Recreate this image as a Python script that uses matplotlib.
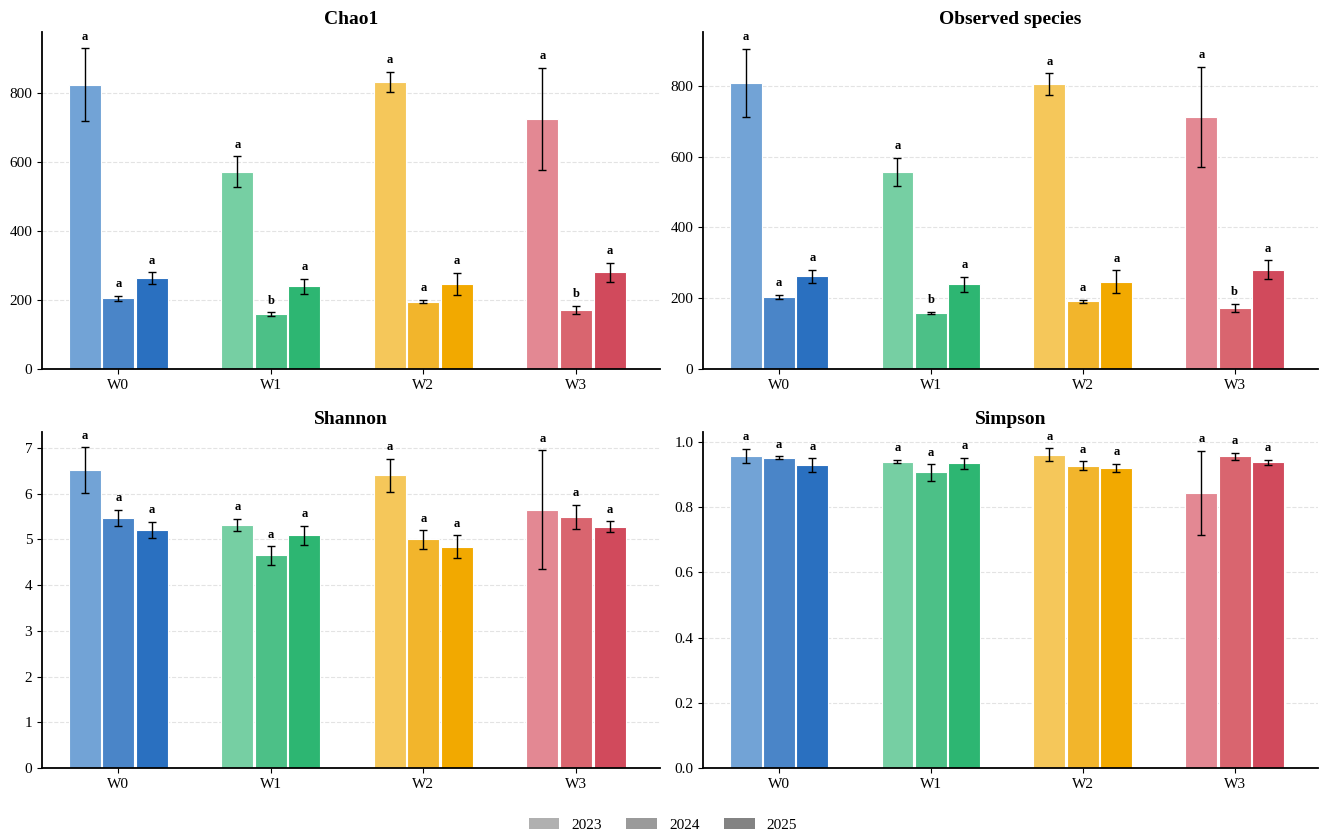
import matplotlib
matplotlib.use("Agg")
import matplotlib.pyplot as plt
import numpy as np
from matplotlib.patches import Patch

plt.rcParams["font.family"] = ["Liberation Serif", "DejaVu Serif"]

# ==========================================
# Data
# ==========================================

groups = ["W0", "W1", "W2", "W3"]
years = ["2023", "2024", "2025"]

# rows = groups, cols = years
chao1_mean = [[825, 205, 263], [572, 160, 240], [832, 195, 247], [725, 172, 280]]
chao1_err = [[105, 7, 18], [45, 5, 22], [30, 5, 32], [148, 12, 28]]
chao1_sig = [["a", "a", "a"], ["a", "b", "a"], ["a", "a", "a"], ["a", "b", "a"]]

obs_mean = [[808, 204, 262], [557, 158, 239], [805, 191, 247], [712, 172, 281]]
obs_err = [[97, 5, 18], [40, 4, 22], [30, 4, 32], [142, 12, 26]]
obs_sig = [["a", "a", "a"], ["a", "b", "a"], ["a", "a", "a"], ["a", "b", "a"]]

shannon_mean = [[6.52, 5.47, 5.21], [5.32, 4.65, 5.09], [6.40, 5.00, 4.84], [5.65, 5.49, 5.28]]
shannon_err = [[0.50, 0.18, 0.18], [0.13, 0.20, 0.21], [0.37, 0.20, 0.25], [1.30, 0.27, 0.12]]
shannon_sig = [["a", "a", "a"], ["a", "a", "a"], ["a", "a", "a"], ["a", "a", "a"]]

simpson_mean = [[0.957, 0.951, 0.928], [0.939, 0.906, 0.934], [0.960, 0.927, 0.919], [0.843, 0.955, 0.937]]
simpson_err = [[0.021, 0.005, 0.021], [0.005, 0.025, 0.017], [0.020, 0.013, 0.013], [0.130, 0.011, 0.008]]
simpson_sig = [["a", "a", "a"], ["a", "a", "a"], ["a", "a", "a"], ["a", "a", "a"]]

group_colors = [
    ["#72a3d6", "#4a85c8", "#2a70c0"],
    ["#76cfa3", "#4cc087", "#2db672"],
    ["#f5c75a", "#f2b52c", "#f2a900"],
    ["#e38893", "#d9656f", "#d14a5c"],
]

panels = [
    ("Chao1", chao1_mean, chao1_err, chao1_sig, 977, [0, 200, 400, 600, 800]),
    ("Observed species", obs_mean, obs_err, obs_sig, 952, [0, 200, 400, 600, 800]),
    ("Shannon", shannon_mean, shannon_err, shannon_sig, 7.35, [0, 1, 2, 3, 4, 5, 6, 7]),
    ("Simpson", simpson_mean, simpson_err, simpson_sig, 1.03, [0.0, 0.2, 0.4, 0.6, 0.8, 1.0]),
]

positions = [
    [0.0317, 0.5597, 0.466, 0.402],
    [0.5302, 0.5597, 0.464, 0.402],
    [0.0317, 0.0835, 0.466, 0.401],
    [0.5302, 0.0835, 0.464, 0.401],
]

# ==========================================
# Plot
# ==========================================

fig = plt.figure(figsize=(13.26, 8.38), dpi=100)

x = np.arange(len(groups))
width = 0.21
offsets = [-0.22, 0.0, 0.22]

for (title, means, errs, sigs, ymax, yticks), pos in zip(panels, positions):
    ax = fig.add_axes(pos)
    for g in range(len(groups)):
        for k in range(len(years)):
            xp = x[g] + offsets[k]
            m = means[g][k]
            e = errs[g][k]
            ax.bar(xp, m, width=width, color=group_colors[g][k],
                   edgecolor="white", linewidth=0.8, zorder=2)
            ax.errorbar(xp, m, yerr=e, fmt="none", ecolor="black",
                        elinewidth=1, capsize=3, capthick=1, zorder=3)
            ax.annotate(sigs[g][k], (xp, m + e), xytext=(0, 4),
                        textcoords="offset points", ha="center", va="bottom",
                        fontsize=9, fontweight="bold")

    ax.set_title(title, fontsize=14, fontweight="bold", pad=6)
    ax.set_xticks(x)
    ax.set_xticklabels(groups, fontsize=11)
    ax.set_yticks(yticks)
    ax.tick_params(axis="y", labelsize=11)
    ax.set_xlim(-0.5, 3.55)
    ax.set_ylim(0, ymax)
    ax.yaxis.grid(True, linestyle="--", color="#e3e3e3", linewidth=0.8, zorder=0)
    ax.set_axisbelow(True)
    ax.spines["top"].set_visible(False)
    ax.spines["right"].set_visible(False)
    ax.spines["left"].set_linewidth(1.3)
    ax.spines["bottom"].set_linewidth(1.3)

handles = [
    Patch(facecolor="#b0b0b0", label="2023"),
    Patch(facecolor="#9a9a9a", label="2024"),
    Patch(facecolor="#838383", label="2025"),
]
fig.legend(handles=handles, loc="center", bbox_to_anchor=(0.5, 0.016),
           ncol=3, frameon=False, fontsize=11, columnspacing=1.6,
           handlelength=2.0, handleheight=0.8)

fig.savefig("out.png", dpi=100)
